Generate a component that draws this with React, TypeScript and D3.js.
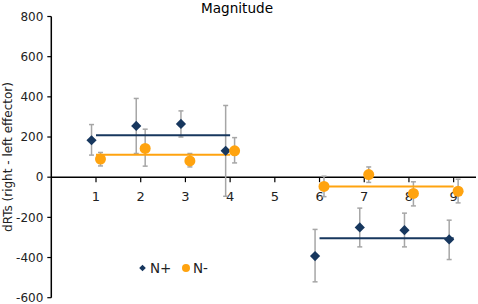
import React from "react";
import * as d3 from "d3";

const categories = [1, 2, 3, 4, 6, 7, 8, 9];
const xTicks = [1, 2, 3, 4, 5, 6, 7, 8, 9];
const yTicks = [-600, -400, -200, 0, 200, 400, 600, 800];

const nPlusValues = [184, 255, 265, 131, -393, -250, -264, -310];
const nPlusErrUp = [78, 137, 65, 226, 133, 96, 85, 96];
const nPlusErrDown = [74, 137, 65, 226, 128, 97, 83, 100];

const nMinusValues = [90, 143, 81, 131, -46, 13, -81, -70];
const nMinusErrUp = [33, 96, 37, 66, 51, 38, 58, 60];
const nMinusErrDown = [34, 88, 30, 60, 51, 39, 62, 58];

const meanCats = [[1, 4], [6, 9]];
const nPlusMeans = [209, -304];
const nMinusMeans = [112, -46];

const NAVY = "#17375e";
const ORANGE = "#ffa30f";
const GRAY = "#a6a6a6";
const FONT = "'DejaVu Sans', Verdana, sans-serif";

export default function App() {
  const W = 478, H = 304;
  const x = d3.scaleLinear().domain([0, 9.5]).range([51.3, 476]);
  const y = d3.scaleLinear().domain([-600, 800]).range([297.7, 16.5]);
  const off = 0.1;
  const diamond = d3.symbol().type(d3.symbolSquare).size(52)();
  const diamondSmall = d3.symbol().type(d3.symbolSquare).size(22)();
  const circle = d3.symbol().type(d3.symbolCircle).size(95)();
  const circleSmall = d3.symbol().type(d3.symbolCircle).size(50)();
  const line = d3.line<[number, number]>().x(d => x(d[0])).y(d => y(d[1]));

  const errBars = (vals: number[], up: number[], dn: number[], dx: number, key: string) =>
    categories.map((c, i) => {
      const cx = x(c + dx);
      const t = y(vals[i] + up[i]);
      const b = y(vals[i] - dn[i]);
      return (
        <g key={key + i} stroke={GRAY} strokeWidth={1.5}>
          <line x1={cx} x2={cx} y1={t} y2={b} />
          <line x1={cx - 2.5} x2={cx + 2.5} y1={t} y2={t} />
          <line x1={cx - 2.5} x2={cx + 2.5} y1={b} y2={b} />
        </g>
      );
    });

  return (
    <svg width={W} height={H} style={{ position: "absolute", left: 0, top: 0, background: "#fff" }}>
      <rect width={W} height={H} fill="#fff" />
      <text x={237} y={13} textAnchor="middle" fontFamily={FONT} fontSize={13.6} fill="#000">Magnitude</text>
      {/* y axis */}
      <line x1={x(0)} x2={x(0)} y1={y(800)} y2={y(-600)} stroke="#000" strokeWidth={1.5} />
      {yTicks.map(t => (
        <g key={"yt" + t}>
          <line x1={x(0) - 4} x2={x(0)} y1={y(t)} y2={y(t)} stroke="#000" strokeWidth={1.2} />
          <text x={x(0) - 8} y={y(t)} dy="0.35em" textAnchor="end" fontFamily={FONT} fontSize={12} fill="#222">{t}</text>
        </g>
      ))}
      <text transform={`translate(12,${157}) rotate(-90)`} textAnchor="middle" fontFamily={FONT} fontSize={12} fill="#222">dRTs (right - left effector)</text>
      {/* x axis */}
      <line x1={x(0)} x2={x(9.5)} y1={y(0)} y2={y(0)} stroke="#000" strokeWidth={1.5} />
      {xTicks.map(t => (
        <g key={"xt" + t}>
          <line x1={x(t)} x2={x(t)} y1={y(0)} y2={y(0) + 5} stroke="#000" strokeWidth={1.2} />
          <text x={x(t)} y={y(0) + 19} dy="0.35em" textAnchor="middle" fontFamily={FONT} fontSize={13} fill="#222">{t}</text>
        </g>
      ))}
      {errBars(nPlusValues, nPlusErrUp, nPlusErrDown, -off, "ep")}
      {errBars(nMinusValues, nMinusErrUp, nMinusErrDown, off, "em")}
      {meanCats.map((r, i) => (
        <path key={"mp" + i} d={line([[r[0], nPlusMeans[i]], [r[1], nPlusMeans[i]]])!} stroke={NAVY} strokeWidth={2} fill="none" />
      ))}
      {meanCats.map((r, i) => (
        <path key={"mm" + i} d={line([[r[0], nMinusMeans[i]], [r[1], nMinusMeans[i]]])!} stroke={ORANGE} strokeWidth={2} fill="none" />
      ))}
      {categories.map((c, i) => (
        <path key={"pp" + i} d={diamond!} transform={`translate(${x(c - off)},${y(nPlusValues[i])}) rotate(45)`} fill={NAVY} />
      ))}
      {categories.map((c, i) => (
        <path key={"pm" + i} d={circle!} transform={`translate(${x(c + off)},${y(nMinusValues[i])})`} fill={ORANGE} />
      ))}
      {/* legend */}
      <path d={diamondSmall!} transform={`translate(142.5,268) rotate(45)`} fill={NAVY} />
      <text x={150} y={268} dy="0.36em" fontFamily={FONT} fontSize={13.5} fill="#222">N+</text>
      <path d={circleSmall!} transform={`translate(186,268)`} fill={ORANGE} />
      <text x={193} y={268} dy="0.36em" fontFamily={FONT} fontSize={13.5} fill="#222">N-</text>
    </svg>
  );
}
